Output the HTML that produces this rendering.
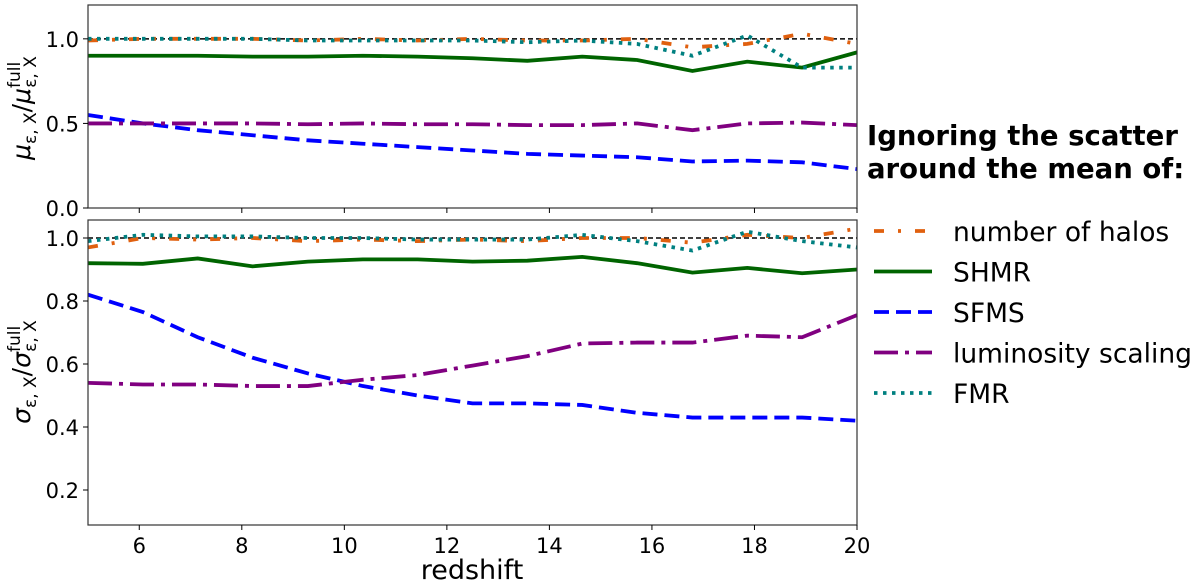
<!DOCTYPE html>
<html><head><meta charset="utf-8"><style>
body{margin:0;background:#fff}
svg{display:block;font-family:"DejaVu Sans","Liberation Sans",sans-serif}
</style></head><body>
<svg id="chart" width="1200" height="581" viewBox="0 0 1200 581">
<g id="plot"></g>
<text x="472" y="579" font-size="27" text-anchor="middle">redshift</text>
<text transform="translate(30,108) rotate(-90)" font-size="25" text-anchor="middle"><tspan font-style="italic">μ</tspan><tspan font-size="17" dy="6">ε, X</tspan><tspan dy="-6">/</tspan><tspan font-style="italic">μ</tspan><tspan font-size="17" dy="-10">full</tspan><tspan font-size="17" dx="-26" dy="16">ε, X</tspan></text>
<text transform="translate(30,372) rotate(-90)" font-size="25" text-anchor="middle"><tspan font-style="italic">σ</tspan><tspan font-size="17" dy="6">ε, X</tspan><tspan dy="-6">/</tspan><tspan font-style="italic">σ</tspan><tspan font-size="17" dy="-10">full</tspan><tspan font-size="17" dx="-26" dy="16">ε, X</tspan></text>
<g>
<text x="867" y="145" font-size="27.5" font-weight="bold">Ignoring the scatter</text>
<text x="867" y="178" font-size="27.5" font-weight="bold">around the mean of:</text>
<g id="legend-entries"></g>
</g>
</svg>
<script>
const zVals=[5,6.07,7.14,8.21,9.29,10.36,11.43,12.5,13.57,14.64,15.71,16.79,17.86,18.93,20];
const muHalos=[0.99,1.0,1.0,1.0,0.99,1.0,0.99,1.0,0.99,0.99,1.0,0.95,0.97,1.03,0.97];
const muSHMR=[0.90,0.90,0.90,0.895,0.895,0.90,0.895,0.885,0.87,0.895,0.875,0.81,0.865,0.83,0.92];
const muSFMS=[0.55,0.50,0.46,0.43,0.40,0.38,0.36,0.34,0.32,0.31,0.30,0.275,0.28,0.27,0.23];
const muLum=[0.50,0.50,0.50,0.50,0.495,0.50,0.495,0.495,0.49,0.49,0.50,0.46,0.50,0.505,0.49];
const muFMR=[1.0,1.0,1.0,1.0,0.99,0.99,0.99,0.99,0.98,0.99,0.97,0.90,1.02,0.83,0.83];
const sgHalos=[0.97,1.0,0.995,1.0,0.99,0.995,0.99,0.995,0.99,1.0,1.0,0.985,1.01,1.0,1.03];
const sgSHMR=[0.92,0.918,0.935,0.91,0.925,0.932,0.932,0.925,0.928,0.94,0.92,0.89,0.905,0.888,0.90];
const sgSFMS=[0.82,0.765,0.685,0.62,0.57,0.53,0.50,0.475,0.475,0.47,0.445,0.43,0.43,0.43,0.42];
const sgLum=[0.54,0.535,0.535,0.53,0.53,0.55,0.565,0.595,0.625,0.665,0.668,0.668,0.69,0.685,0.755];
const sgFMR=[0.99,1.01,1.005,1.005,1.0,1.0,0.995,0.995,0.995,1.01,0.99,0.96,1.02,0.99,0.97];
const xTicks=[6,8,10,12,14,16,18,20];
const topTicks=[0.0,0.5,1.0];
const botTicks=[0.2,0.4,0.6,0.8,1.0];
const seriesNames=["number of halos","SHMR","SFMS","luminosity scaling","FMR"];

const NS="http://www.w3.org/2000/svg";
const styles=[{c:"#e0600f",d:"10,14,3,14"},{c:"#006400",d:""},{c:"#0000ff",d:"15,7"},{c:"#800080",d:"24,7,4,7"},{c:"#008080",d:"3.5,5.5"}];
const X0=88,X1=857;
const xs=v=>X0+(v-5)/(20-5)*(X1-X0);
const plot=document.getElementById('plot');
function el(t,a,p){const e=document.createElementNS(NS,t);for(const k in a)e.setAttribute(k,a[k]);(p||plot).appendChild(e);return e;}
function panel(name,yT,yB,vMin,vMax,ticks,series,showX){
  const ys=v=>yB-(v-vMin)/(vMax-vMin)*(yB-yT);
  const g=el('g',{});
  
  
  const ref=el('line',{x1:X0,x2:X1,y1:ys(1),y2:ys(1),stroke:'#000','stroke-width':1.5,'stroke-dasharray':'5,3'},g);
  
  
  series.forEach((s,i)=>{
    const p=el('polyline',{points:s.map((v,j)=>xs(zVals[j])+','+ys(v)).join(' '),fill:'none',stroke:styles[i].c,'stroke-width':3.8,'stroke-dasharray':styles[i].d},g);
    
    
  });
  const box=el('rect',{x:X0,y:yT,width:X1-X0,height:yB-yT,fill:'none',stroke:'#333','stroke-width':1.2},g);
  
  
  ticks.forEach(t=>{
    el('line',{x1:X0-5,x2:X0,y1:ys(t),y2:ys(t),stroke:'#000'},g);
    const tx=el('text',{x:X0-9,y:ys(t)+8,'font-size':21,'text-anchor':'end'},g);
    tx.textContent=t.toFixed(1);
    
    
  });
  xTicks.forEach(t=>{
    el('line',{x1:xs(t),x2:xs(t),y1:yB,y2:yB+5,stroke:'#000'},g);
    if(showX){const tx=el('text',{x:xs(t),y:yB+28,'font-size':21,'text-anchor':'middle'},g);
      tx.textContent=t;
      
      }
  });
}
panel('top-panel-mean',5,208,0,1.2,topTicks,[muHalos,muSHMR,muSFMS,muLum,muFMR],false);
panel('bottom-panel-scatter',220,525,0.0889,1.0571,botTicks,[sgHalos,sgSHMR,sgSFMS,sgLum,sgFMR],true);
const lg=document.getElementById('legend-entries');
seriesNames.forEach((n,i)=>{
  const y=231+i*40.5;
  const g=el('g',{},lg);
  
  
  el('line',{x1:874,x2:932,y1:y,y2:y,stroke:styles[i].c,'stroke-width':3.8,'stroke-dasharray':styles[i].d},g);
  const t=el('text',{x:953,y:y+10,'font-size':26.5},g);
  t.textContent=n;
});
</script>
</body></html>
